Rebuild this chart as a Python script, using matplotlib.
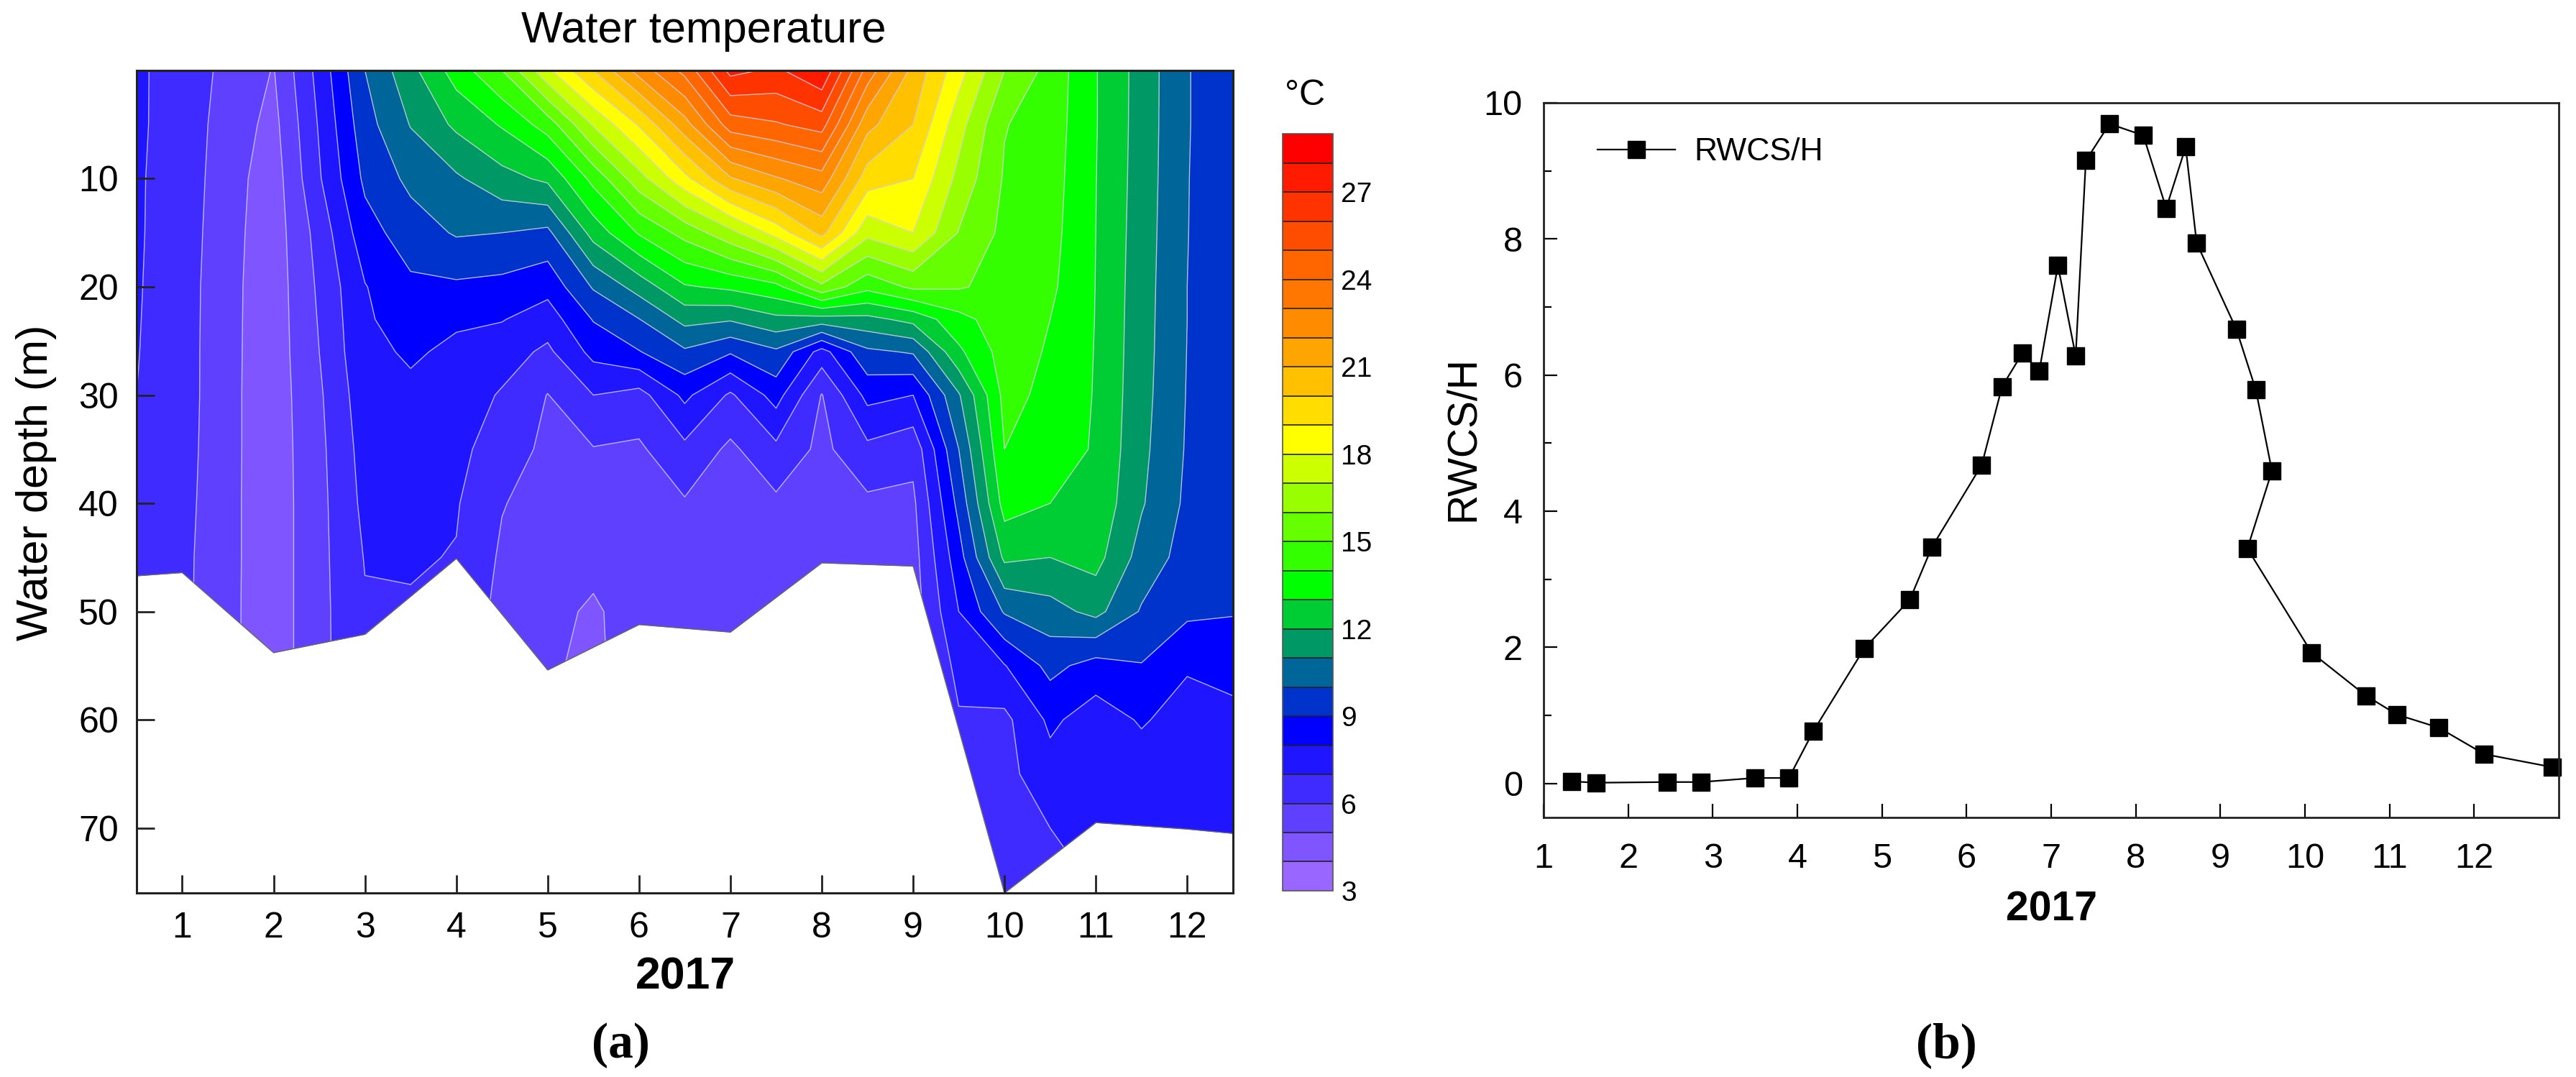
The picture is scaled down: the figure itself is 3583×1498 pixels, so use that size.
import numpy as np
import matplotlib
matplotlib.use('Agg')
import matplotlib.pyplot as plt
from matplotlib.ticker import MultipleLocator

plt.rcParams['font.family'] = ['Liberation Sans', 'DejaVu Sans']

# ---------- (a) water temperature (°C) ----------
months = [0.5, 1, 1.5, 2, 2.5, 3, 3.5, 4, 4.5, 5, 5.5, 6, 6.5,
          7, 7.5, 8, 8.5, 9, 9.5, 10, 10.5, 11, 11.5, 12, 12.5]
depths = [0, 5, 10, 15, 20, 23, 26, 30, 35, 40, 45, 50, 55, 60, 65, 70, 76]

# one profile per month column, from surface to 76 m
temp_profiles = [
    [7.17, 7.15, 7.1, 7.1, 7.08, 7.06, 7.04, 7.0, 6.9, 6.85, 6.8, 6.8, 6.8, 6.8, 6.8, 6.8, 6.8],
    [6.55, 6.58, 6.6, 6.55, 6.49, 6.48, 6.47, 6.47, 6.42, 6.35, 6.27, 6.25, 6.25, 6.25, 6.25, 6.25, 6.25],
    [5.74, 5.55, 5.4, 5.32, 5.27, 5.26, 5.25, 5.24, 5.24, 5.23, 5.23, 5.22, 5.22, 5.22, 5.22, 5.22, 5.22],
    [4.95, 4.7, 4.5, 4.47, 4.45, 4.45, 4.45, 4.45, 4.45, 4.45, 4.45, 4.45, 4.45, 4.45, 4.45, 4.45, 4.45],
    [7.35, 7.1, 6.9, 6.38, 6.17, 6.08, 6.0, 5.85, 5.75, 5.7, 5.7, 5.7, 5.7, 5.7, 5.7, 5.7, 5.7],
    [10.0, 9.6, 9.2, 8.6, 7.95, 7.87, 7.8, 7.6, 7.4, 7.25, 7.05, 6.9, 6.85, 6.85, 6.85, 6.85, 6.85],
    [11.7, 11.05, 10.25, 9.5, 8.8, 8.45, 8.1, 7.84, 7.59, 7.35, 7.1, 6.9, 6.85, 6.85, 6.85, 6.85, 6.85],
    [13.45, 12.2, 10.85, 10.1, 8.83, 8.1, 7.85, 7.55, 7.3, 7.08, 6.95, 6.85, 6.85, 6.85, 6.85, 6.85, 6.85],
    [15.0, 13.1, 11.65, 10.0, 8.7, 8.05, 7.45, 6.9, 6.45, 6.05, 5.85, 5.65, 5.6, 5.6, 5.6, 5.6, 5.6],
    [17.8, 14.45, 12.2, 9.75, 8.32, 7.5, 6.8, 5.97, 5.8, 5.6, 5.45, 5.3, 5.12, 5.1, 5.1, 5.1, 5.1],
    [20.0, 17.1, 14.3, 12.4, 10.1, 9.06, 8.3, 7.0, 5.95, 5.6, 5.3, 4.85, 4.8, 4.8, 4.8, 4.8, 4.8],
    [22.4, 19.1, 16.6, 14.1, 11.4, 9.97, 8.95, 6.63, 5.85, 5.7, 5.6, 5.5, 5.5, 5.5, 5.5, 5.5, 5.5],
    [24.3, 21.6, 18.7, 15.35, 12.9, 11.3, 9.85, 8.23, 6.75, 5.9, 5.7, 5.6, 5.55, 5.55, 5.55, 5.55, 5.55],
    [27.3, 24.5, 20.9, 16.7, 13.2, 11.1, 9.1, 6.85, 5.8, 5.6, 5.5, 5.45, 5.45, 5.45, 5.45, 5.45, 5.45],
    [26.8, 24.9, 21.9, 18.4, 13.7, 11.75, 9.83, 8.4, 6.75, 5.8, 5.6, 5.5, 5.5, 5.5, 5.5, 5.5, 5.5],
    [27.9, 25.4, 22.6, 20.3, 15.75, 11.6, 7.6, 5.95, 5.75, 5.6, 5.5, 5.45, 5.45, 5.45, 5.45, 5.45, 5.45],
    [23.6, 21.3, 19.5, 17.3, 14.3, 11.7, 9.8, 8.3, 6.75, 5.8, 5.6, 5.5, 5.5, 5.5, 5.5, 5.5, 5.5],
    [20.7, 20.0, 19.0, 18.0, 15.2, 12.3, 10.1, 8.0, 6.3, 5.8, 5.6, 5.5, 5.5, 5.5, 5.5, 5.5, 5.5],
    [18.4, 17.4, 16.7, 15.95, 15.1, 13.67, 12.8, 10.9, 10.0, 9.3, 8.6, 8.0, 7.3, 6.9, 6.8, 6.8, 6.8],
    [16.0, 15.05, 14.9, 14.75, 14.65, 14.55, 14.45, 14.3, 14.0, 13.4, 12.2, 10.1, 7.95, 6.75, 6.7, 6.6, 6.5],
    [14.65, 14.55, 14.45, 14.35, 14.2, 14.0, 13.9, 13.75, 13.5, 13.0, 12.0, 10.6, 9.3, 8.2, 7.6, 7.0, 6.8],
    [13.05, 13.05, 13.02, 13.0, 12.98, 12.97, 12.95, 12.93, 12.9, 12.75, 12.35, 11.3, 8.6, 7.5, 7.4, 7.05, 7.0],
    [11.6, 11.58, 11.55, 11.5, 11.45, 11.42, 11.4, 11.35, 11.25, 11.1, 10.6, 9.9, 8.95, 8.1, 7.5, 7.2, 7.1],
    [10.05, 10.05, 10.03, 10.02, 10.0, 10.0, 9.98, 9.95, 9.9, 9.8, 9.6, 9.2, 8.1, 7.6, 7.3, 7.1, 7.0],
    [9.4, 9.4, 9.4, 9.4, 9.38, 9.37, 9.36, 9.35, 9.33, 9.3, 9.2, 9.05, 8.5, 7.6, 7.3, 7.1, 7.0],
]

# lake bottom (m) along the section
bottom_months = [0.5, 1, 2, 3, 4, 5, 6, 7, 8, 9, 10, 11, 12, 12.5]
bottom_depths = [46.7, 46.4, 53.8, 52.1, 45.1, 55.4, 51.2, 51.9, 45.5, 45.8, 76.0, 69.5, 70.1, 70.5]

temp_levels = np.arange(3, 30, 1)
temp_colors = ['#9966ff', '#7f55ff', '#5f40ff', '#3f2aff', '#2015ff', '#0000ff',
               '#0033cc', '#006699', '#009966', '#00cc33', '#00ff00', '#33ff00',
               '#66ff00', '#99ff00', '#ccff00', '#ffff00', '#ffdd00', '#ffc000',
               '#ffa500', '#ff8c00', '#ff7700', '#ff6600', '#ff4d00', '#ff3300',
               '#ff1a00', '#ff0000']
cbar_ticks = [3, 6, 9, 12, 15, 18, 21, 24, 27]

# ---------- (b) RWCS/H ----------
rwcs_month = [1.33, 1.62, 2.46, 2.86, 3.5, 3.9, 4.19, 4.79, 5.33, 5.59, 6.18,
              6.42, 6.66, 6.86, 7.08, 7.29, 7.41, 7.69, 8.09, 8.36, 8.59, 8.72,
              9.19, 9.42, 9.61, 9.32, 10.08, 10.72, 11.09, 11.58, 12.12, 12.92]
rwcs_value = [0.03, 0.01, 0.02, 0.02, 0.08, 0.08, 0.77, 1.98, 2.70, 3.47, 4.68,
              5.83, 6.32, 6.06, 7.61, 6.28, 9.15, 9.69, 9.52, 8.45, 9.35, 7.94,
              6.67, 5.78, 4.59, 3.45, 1.92, 1.29, 1.01, 0.82, 0.43, 0.24]

fig = plt.figure(figsize=(35.83, 14.98), dpi=100)

# ---- left panel ----
ax1 = fig.add_axes([0.0530, 0.1709, 0.4256, 0.7637])
temp = np.array(temp_profiles).T
cf = ax1.contourf(months, depths, temp, levels=temp_levels, colors=temp_colors, zorder=0.5)
ax1.contour(months, depths, temp, levels=temp_levels, colors='#cfcfe6',
            linewidths=1.0, alpha=0.85, zorder=0.6)
ax1.fill_between(bottom_months, bottom_depths, 80, color='white', lw=0, zorder=1.0)
ax1.plot(bottom_months, bottom_depths, color='#666666', lw=1.0, zorder=1.1)
ax1.set_xlim(0.5, 12.5)
ax1.set_ylim(76, 0)
ax1.set_xticks(range(1, 13))
ax1.set_yticks(range(10, 80, 10))
ax1.tick_params(direction='in', length=18, width=2, labelsize=36, color='#222222')
ax1.tick_params(axis='x', pad=19)
ax1.tick_params(axis='y', pad=18)
for s in ax1.spines.values():
    s.set_linewidth(2.2)
    s.set_color('#222222')

fig.text(0.2732, 0.9606, 'Water temperature', ha='center', va='baseline', fontsize=44)
fig.text(0.0140, 0.552, 'Water depth (m)', rotation=90, ha='center', va='center', fontsize=44)
fig.text(0.266, 0.0821, '2017', ha='center', va='baseline', fontsize=45, fontweight='bold')
fig.text(0.2409, 0.018, '(a)', ha='center', va='baseline', fontsize=50,
         fontweight='bold', family=['Liberation Serif', 'DejaVu Serif'])

# colorbar
cax = fig.add_axes([0.4979, 0.1729, 0.01954, 0.7029])
cb = fig.colorbar(cf, cax=cax, ticks=cbar_ticks, drawedges=True)
cb.ax.tick_params(length=0, labelsize=28, pad=8)
cb.outline.set_edgecolor('#555555')
cb.outline.set_linewidth(1.2)
cb.dividers.set_color('#222222')
cb.dividers.set_linewidth(1.2)
fig.text(0.5066, 0.9025, '°C', ha='center', va='baseline', fontsize=36)

# ---- right panel ----
ax2 = fig.add_axes([0.5992, 0.2410, 0.3941, 0.6636])
ax2.plot(rwcs_month, rwcs_value, '-s', color='black', ms=17, lw=1.6,
         clip_on=False, label='RWCS/H')
ax2.set_xlim(1, 13)
ax2.set_ylim(-0.5, 10)
ax2.set_xticks(range(1, 13))
ax2.set_yticks(range(0, 11, 2))
ax2.yaxis.set_minor_locator(MultipleLocator(1))
ax2.tick_params(which='major', direction='in', length=14, width=1.6, labelsize=35)
ax2.tick_params(which='minor', direction='in', length=8, width=1.6)
ax2.tick_params(axis='x', which='major', pad=25)
ax2.tick_params(axis='y', which='major', pad=21)
for s in ax2.spines.values():
    s.set_linewidth(2.0)
    s.set_color('#222222')
ax2.legend(loc='center left', bbox_to_anchor=(0.0531, 0.9306), frameon=False,
           fontsize=32, handlelength=2.43, handletextpad=0.59, borderpad=0,
           borderaxespad=0, numpoints=1)

fig.text(0.568, 0.593, 'RWCS/H', rotation=90, ha='center', va='center', fontsize=41)
fig.text(0.7965, 0.1455, '2017', ha='center', va='baseline', fontsize=41, fontweight='bold')
fig.text(0.7555, 0.018, '(b)', ha='center', va='baseline', fontsize=50,
         fontweight='bold', family=['Liberation Serif', 'DejaVu Serif'])

fig.savefig('out.png', dpi=100, facecolor='white')
